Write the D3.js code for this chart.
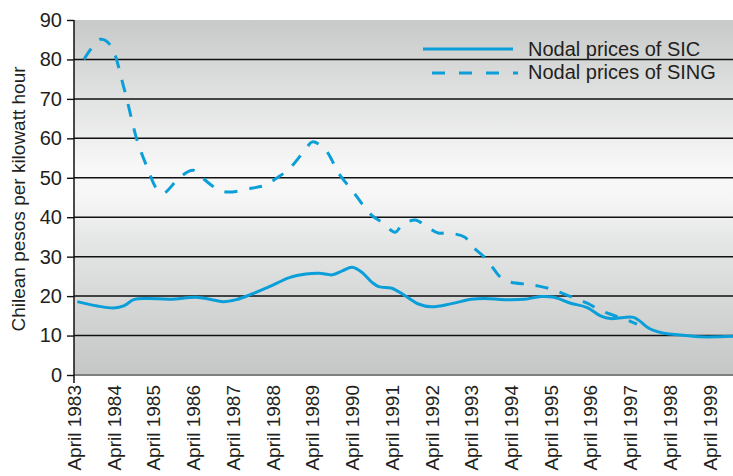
<!DOCTYPE html>
<html>
<head>
<meta charset="utf-8">
<script src="https://d3js.org/d3.v7.min.js"></script>
<style>
  body { margin: 0; background: #fff; }
  svg { display: block; font-family: "Liberation Sans", Arial, sans-serif; }
  .tickTxt { font-size: 19px; fill: #231f20; }
  .bigTxt { font-size: 20px; fill: #231f20; }
</style>
</head>
<body>
<div id="chart"></div>
<script>
// data (month, pesos per kWh)
var sicDates = ["1983-05", "1983-11", "1984-04", "1984-07", "1984-10", "1985-02", "1985-09",
  "1986-05", "1986-09", "1987-01", "1987-05", "1987-09", "1988-03", "1988-09", "1989-02",
  "1989-06", "1989-10", "1990-01", "1990-04", "1990-07", "1990-10", "1990-12", "1991-04",
  "1991-08", "1991-12", "1992-04", "1992-10", "1993-04", "1993-08", "1994-02", "1994-08",
  "1995-01", "1995-05", "1995-10", "1996-03", "1996-07", "1996-10", "1997-02", "1997-05",
  "1997-07", "1997-09", "1997-11", "1998-02", "1998-08", "1999-01", "1999-07", "1999-11"];
var sicValues = [18.6, 17.5, 17.0, 17.5, 19.1, 19.4, 19.2,
  19.7, 19.2, 18.6, 19.1, 20.3, 22.4, 24.7, 25.6,
  25.8, 25.4, 26.4, 27.3, 26.0, 23.5, 22.4, 22.0,
  20.1, 18.0, 17.3, 18.1, 19.2, 19.4, 19.1, 19.2,
  19.9, 19.7, 18.2, 17.1, 15.0, 14.3, 14.6, 14.6,
  13.6, 12.2, 11.3, 10.6, 10.1, 9.7, 9.7, 9.8];

var singDates = ["1983-07", "1983-12", "1984-03", "1984-07", "1984-11", "1985-02", "1985-05",
  "1985-07", "1985-12", "1986-04", "1986-07", "1987-01", "1987-10", "1988-02", "1988-05",
  "1988-09", "1989-02", "1989-04", "1989-08", "1989-12", "1990-04", "1990-07", "1990-10",
  "1991-01", "1991-05", "1991-07", "1991-11", "1992-02", "1992-06", "1992-09", "1993-02",
  "1993-04", "1993-08", "1993-10", "1994-01", "1994-04", "1994-09", "1994-12", "1995-04",
  "1995-07", "1995-12", "1996-03", "1996-07", "1996-10", "1997-03", "1997-06"];
var singValues = [80.0, 85.1, 83.6, 73.0, 59.5, 52.7, 47.2,
  46.1, 50.2, 51.9, 49.8, 46.5, 47.4, 48.2, 49.8,
  52.3, 57.4, 59.1, 57.0, 51.0, 46.8, 43.4, 40.4,
  38.7, 36.2, 37.9, 39.3, 37.9, 36.0, 36.0, 34.9,
  32.8, 29.8, 27.7, 24.6, 23.5, 23.0, 22.6, 21.8,
  20.9, 19.2, 18.2, 16.4, 15.4, 14.0, 12.9];

var yTicks = [0, 10, 20, 30, 40, 50, 60, 70, 80, 90];
var tickYears = d3.range(1983, 2000);
var legendNames = ["Nodal prices of SIC", "Nodal prices of SING"];

// chart set up
var width = 733;
var height = 476;
var plotLeft = 74;
var plotRight = 733;
var plotTop = 20;
var plotBottom = 375;
var blue = "#0a9fd9";

var svg = d3
  .select("#chart")
  .append("svg")
  .attr("width", width)
  .attr("height", height);

var parseMonth = d3.timeParse("%Y-%m");

var xScale = d3
  .scaleTime()
  .domain([new Date(1983, 3, 1), new Date(1999, 10, 1)])
  .range([plotLeft, plotRight]);
var yScale = d3
  .scaleLinear()
  .domain([0, 90])
  .range([plotBottom, plotTop]);

// background gradient of the plot area
var grad = svg
  .append("defs")
  .append("linearGradient")
  .attr("id", "bg")
  .attr("x1", 0).attr("y1", 0)
  .attr("x2", 0).attr("y2", 1);
var stops = [[0, "#c8c9c9"], [0.22, "#e1e2e2"], [0.42, "#f8f8f8"], [0.5, "#f6f6f6"],
  [0.62, "#e5e6e6"], [0.8, "#d5d6d6"], [1, "#c5c6c6"]];
stops.forEach(function(s) {
  grad.append("stop").attr("offset", s[0]).attr("stop-color", s[1]);
});

svg
  .append("rect")
  .attr("x", plotLeft)
  .attr("y", plotTop)
  .attr("width", plotRight - plotLeft)
  .attr("height", plotBottom - plotTop)
  .attr("fill", "url(#bg)");

// horizontal grid lines (none at the top)
svg
  .append("g")
  .selectAll("line")
  .data(yTicks.filter(function(d) { return d > 0 && d < 90; }))
  .enter()
  .append("line")
  .attr("x1", plotLeft)
  .attr("x2", plotRight)
  .attr("y1", function(d) { return yScale(d); })
  .attr("y2", function(d) { return yScale(d); })
  .attr("stroke", "#111")
  .attr("stroke-width", 1.5);

// bottom edge at zero
svg
  .append("line")
  .attr("x1", plotLeft)
  .attr("x2", plotRight)
  .attr("y1", yScale(0))
  .attr("y2", yScale(0))
  .attr("stroke", "#7d7e7e")
  .attr("stroke-width", 2);

// y axis
var yAxis = d3.axisLeft(yScale).tickValues(yTicks).tickSize(7).tickPadding(5);
var yG = svg
  .append("g")
  .attr("transform", "translate(" + plotLeft + ",0)")
  .call(yAxis);
yG.select(".domain").remove();
yG.selectAll(".tick line").attr("stroke", "#111").attr("stroke-width", 1.4);
yG.selectAll(".tick text")
  .attr("class", "bigTxt")
  .attr("fill", null);
yG.attr("font-family", null).attr("font-size", null);

svg
  .append("line")
  .attr("x1", plotLeft)
  .attr("x2", plotLeft)
  .attr("y1", plotTop)
  .attr("y2", plotBottom + 8)
  .attr("stroke", "#111")
  .attr("stroke-width", 1.5);

// x labels, rotated
var xLabels = svg.append("g");
xLabels
  .selectAll("text")
  .data(tickYears)
  .enter()
  .append("text")
  .attr("class", "tickTxt")
  .attr("text-anchor", "end")
  .attr("dy", "0.36em")
  .attr("transform", function(d) {
    return "translate(" + xScale(new Date(d, 3, 1)) + "," + (plotBottom + 10) + ")rotate(-90)";
  })
  .text(function(d) { return "April " + d; });

// y title
svg
  .append("text")
  .attr("class", "tickTxt")
  .attr("text-anchor", "middle")
  .attr("transform", "translate(25,199)rotate(-90)")
  .text("Chilean pesos per kilowatt hour");

// the two price lines
var line = d3
  .line()
  .x(function(d) { return xScale(d.date); })
  .y(function(d) { return yScale(d.value); })
  .curve(d3.curveCatmullRom.alpha(0.5));

var sicData = sicDates.map(function(d, i) {
  return { date: parseMonth(d), value: sicValues[i] };
});
var singData = singDates.map(function(d, i) {
  return { date: parseMonth(d), value: singValues[i] };
});

svg
  .append("path")
  .datum(singData)
  .attr("d", line)
  .attr("fill", "none")
  .attr("stroke", blue)
  .attr("stroke-width", 3)
  .attr("stroke-dasharray", "13,12");

svg
  .append("path")
  .datum(sicData)
  .attr("d", line)
  .attr("fill", "none")
  .attr("stroke", blue)
  .attr("stroke-width", 3);

// legend
var legend = svg.append("g");
legend
  .append("line")
  .attr("x1", 423).attr("x2", 513)
  .attr("y1", 49).attr("y2", 49)
  .attr("stroke", blue)
  .attr("stroke-width", 3);
legend
  .append("line")
  .attr("x1", 432).attr("x2", 518)
  .attr("y1", 73).attr("y2", 73)
  .attr("stroke", blue)
  .attr("stroke-width", 3)
  .attr("stroke-dasharray", "13,14");
legend
  .selectAll("text")
  .data(legendNames)
  .enter()
  .append("text")
  .attr("class", "bigTxt")
  .attr("x", 528)
  .attr("y", function(d, i) { return 56 + i * 23; })
  .text(function(d) { return d; });
</script>
</body>
</html>
